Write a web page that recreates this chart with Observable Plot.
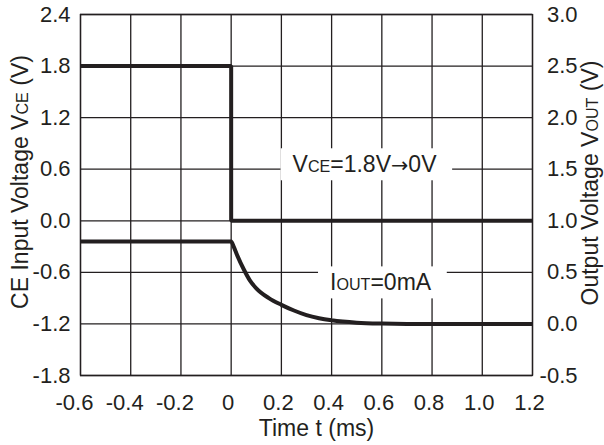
<!DOCTYPE html>
<html>
<head>
<meta charset="utf-8">
<script src="https://cdn.jsdelivr.net/npm/d3@7"></script>
<script src="https://cdn.jsdelivr.net/npm/@observablehq/plot@0.6"></script>
<style>
  html, body { margin: 0; padding: 0; background: white; }
</style>
</head>
<body>
<script>
// ---- data ----
const xTicks = [-0.6, -0.4, -0.2, 0, 0.2, 0.4, 0.6, 0.8, 1.0, 1.2];
const xTickLabels = ["-0.6", "-0.4", "-0.2", "0", "0.2", "0.4", "0.6", "0.8", "1.0", "1.2"];
const yTicks = [-1.8, -1.2, -0.6, 0, 0.6, 1.2, 1.8, 2.4];
const yTickLabels = ["-1.8", "-1.2", "-0.6", "0.0", "0.6", "1.2", "1.8", "2.4"];
const y2TickLabels = ["-0.5", "0.0", "0.5", "1.0", "1.5", "2.0", "2.5", "3.0"];

const vceTime = [-0.6, 0, 0, 1.2];
const vceVolt = [1.8, 1.8, 0, 0];

const voutTime = [-0.6, 0, 0.01, 0.025, 0.05, 0.075, 0.1, 0.15, 0.2, 0.25, 0.3, 0.35, 0.4, 0.5, 0.6, 0.7, 1.2];
const voutVolt = [0.8, 0.8, 0.75, 0.66, 0.53, 0.42, 0.345, 0.25, 0.185, 0.13, 0.085, 0.055, 0.035, 0.012, 0.003, 0, 0];

const xTitle = "Time t (ms)";
const yTitle = "CE Input Voltage V_{CE} (V)";
const y2Title = "Output Voltage V_{OUT} (V)";
const vceNote = "V_{CE}=1.8V\u21920V";
const voutNote = "I_{OUT}=0mA";

// ---- derived tables ----
// right axis (VOUT) mapped onto left axis (VCE) scale, from the tick arrays
const y2ToY = d3.scaleLinear(
  [parseFloat(y2TickLabels[0]), parseFloat(y2TickLabels[y2TickLabels.length - 1])],
  [yTicks[0], yTicks[yTicks.length - 1]]
);
const vceData = vceTime.map((t, i) => ({t, v: vceVolt[i]}));
const voutData = voutTime.map((t, i) => ({t, v: y2ToY(voutVolt[i])}));

const ink = "#231f20";
const negX = xTicks.filter(d => d < 0);
const posX = xTicks.filter(d => d >= 0);
const xfmt = d => xTickLabels[xTicks.indexOf(d)];
const titleFont = 23;

const plot = Plot.plot({
  width: 604,
  height: 445,
  marginLeft: 80,
  marginRight: 72,
  marginTop: 14,
  marginBottom: 70,
  style: {fontFamily: "'Liberation Sans', Arial, Helvetica, sans-serif", fontSize: "22px", color: ink, background: "white"},
  x: {domain: [xTicks[0], xTicks[xTicks.length - 1]], label: null},
  y: {domain: [yTicks[0], yTicks[yTicks.length - 1]], label: null},
  marks: [
    Plot.gridX(xTicks, {stroke: ink, strokeOpacity: 1, strokeWidth: 1.3}),
    Plot.gridY(yTicks, {stroke: ink, strokeOpacity: 1, strokeWidth: 1.3}),
    Plot.frame({stroke: ink, strokeWidth: 1.3}),
    Plot.line(vceData, {x: "t", y: "v", stroke: ink, strokeWidth: 4, strokeLinejoin: "miter", strokeLinecap: "butt"}),
    Plot.line(voutData, {x: "t", y: "v", stroke: ink, strokeWidth: 4, curve: "monotone-x", strokeLinejoin: "miter", strokeLinecap: "butt"}),
    Plot.text([vceNote], {x: 0.531, y: 0.65, fontSize: 23, fill: ink}),
    Plot.text([voutNote], {x: 0.595, y: -0.724, fontSize: 23, fill: ink}),
    Plot.axisX(negX, {anchor: "bottom", tickSize: 0, tickPadding: 19, dx: -6, tickFormat: xfmt, label: null, fill: ink}),
    Plot.axisX(posX, {anchor: "bottom", tickSize: 0, tickPadding: 19, dx: -3, tickFormat: xfmt, label: null, fill: ink}),
    Plot.axisY(yTicks, {anchor: "left", tickSize: 0, tickPadding: 10, tickFormat: d => yTickLabels[yTicks.indexOf(d)], label: null, fill: ink}),
    Plot.axisY(yTicks, {anchor: "right", tickSize: 0, tickPadding: 45, textAnchor: "end", tickFormat: d => y2TickLabels[yTicks.indexOf(d)], label: null, fill: ink}),
    Plot.text([xTitle], {frameAnchor: "bottom", textAnchor: "middle", lineAnchor: "middle", fontSize: titleFont, dx: 10, dy: 53, fill: ink}),
    Plot.text([yTitle], {frameAnchor: "left", textAnchor: "middle", lineAnchor: "middle", fontSize: titleFont, rotate: -90, dx: -60, dy: -13, fill: ink}),
    Plot.text([y2Title], {frameAnchor: "right", textAnchor: "middle", lineAnchor: "middle", fontSize: titleFont, rotate: -90, dx: 58, dy: -12, fill: ink})
  ]
});
document.body.appendChild(plot);

// subscripts as small capitals via tspans; arrow from a font with a full-width arrow
d3.select(plot).selectAll("text").each(function () {
  const t = this.textContent;
  if (!t.includes("_{")) return;
  const sel = d3.select(this);
  sel.text(null);
  t.split(/(_\{[^}]*\}|\u2192)/).forEach(p => {
    if (!p) return;
    if (p.startsWith("_{")) sel.append("tspan").style("font-size", "70%").text(p.slice(2, -1));
    else if (p === "\u2192") sel.append("tspan").style("font-family", "'DejaVu Sans', sans-serif").style("font-size", "90%").text(p);
    else sel.append("tspan").text(p);
  });
});

// white boxes behind the annotations, interrupting the grid
d3.select(plot).selectAll("text").each(function () {
  const t = this.textContent;
  if (!t.includes("=")) return;
  const bb = this.getBBox();
  d3.select(this.parentNode).insert("rect", () => this)
    .attr("x", bb.x - 12).attr("y", bb.y - 3)
    .attr("width", bb.width + 27).attr("height", bb.height + 6)
    .attr("transform", this.getAttribute("transform"))
    .attr("fill", "white").attr("stroke", "none");
});
</script>
</body>
</html>
